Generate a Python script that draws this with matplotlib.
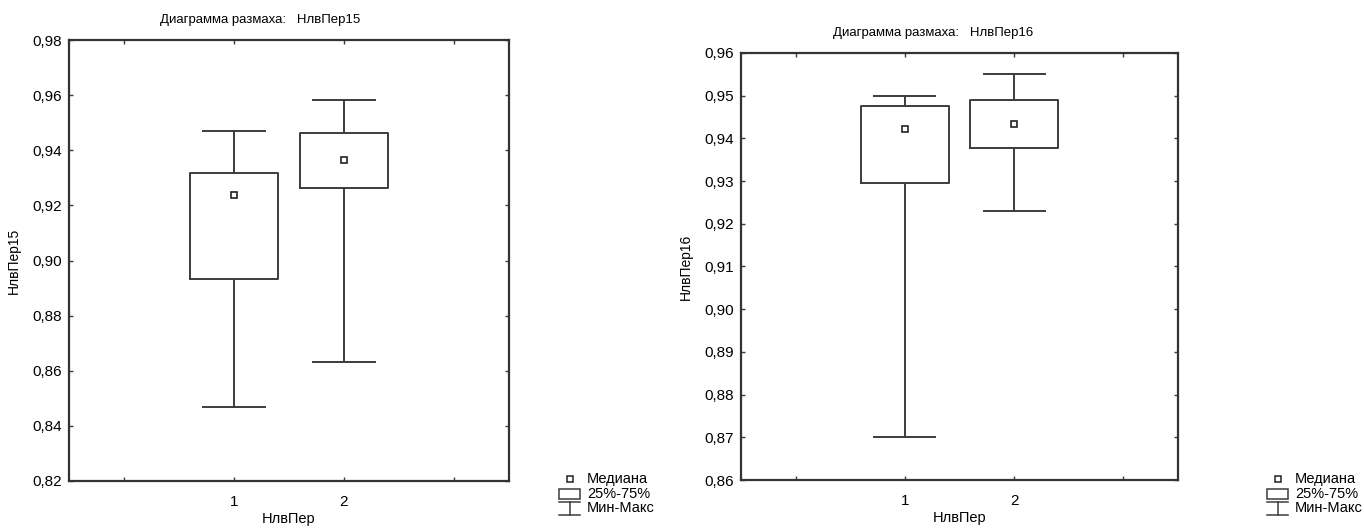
import matplotlib
matplotlib.use("Agg")
import matplotlib.pyplot as plt
from matplotlib.lines import Line2D
from matplotlib.patches import Rectangle
from matplotlib.ticker import FuncFormatter

plt.rcParams['font.family'] = ['Liberation Sans', 'DejaVu Sans']

categories = ["1", "2"]
group_label = "НлвПер"

# Panel 1: НлвПер15
p15_min = [0.8468, 0.8630]
p15_q1 = [0.8934, 0.9262]
p15_med = [0.9236, 0.9366]
p15_q3 = [0.9316, 0.9462]
p15_max = [0.9470, 0.9583]
p15_yticks = [0.82, 0.84, 0.86, 0.88, 0.90, 0.92, 0.94, 0.96, 0.98]

# Panel 2: НлвПер16
p16_min = [0.8700, 0.9231]
p16_q1 = [0.9296, 0.9377]
p16_med = [0.9423, 0.9434]
p16_q3 = [0.9475, 0.9490]
p16_max = [0.9500, 0.9550]
p16_yticks = [0.86, 0.87, 0.88, 0.89, 0.90, 0.91, 0.92, 0.93, 0.94, 0.95, 0.96]

legend_labels = ["Медиана", "25%-75%", "Мин-Макс"]

LC = "#3c3c3c"
W, H = 1364, 528
fig = plt.figure(figsize=(W / 100, H / 100), dpi=100)


def px_axes(x0, y0, x1, y1):
    return fig.add_axes([x0 / W, 1 - y1 / H, (x1 - x0) / W, (y1 - y0) / H])


def draw_panel(ax, mins, q1s, meds, q3s, maxs, yticks, ylabel, fmt):
    stats = []
    for i, c in enumerate(categories):
        stats.append(dict(label=c, whislo=mins[i], q1=q1s[i], med=meds[i],
                          q3=q3s[i], whishi=maxs[i], fliers=[]))
    pos = list(range(1, len(categories) + 1))
    ax.bxp(stats, positions=pos, widths=0.8, capwidths=0.56,
           showfliers=False,
           boxprops=dict(color=LC, linewidth=1.4),
           whiskerprops=dict(color=LC, linewidth=1.4),
           capprops=dict(color=LC, linewidth=1.4),
           medianprops=dict(linestyle='none'))
    ax.plot(pos, meds, linestyle='none', marker='s', markersize=4.5,
            markerfacecolor='white', markeredgecolor='#222222',
            markeredgewidth=1.2)
    ax.set_xlim(-0.5, 3.5)
    ax.set_ylim(yticks[0], yticks[-1])
    ax.set_xticks([0, 1, 2, 3])
    ax.set_xticklabels(["", categories[0], categories[1], ""])
    ax.set_yticks(yticks)
    ax.yaxis.set_major_formatter(FuncFormatter(lambda v, p: fmt.format(v).replace('.', ',')))
    ax.tick_params(direction='in', length=3, width=1, color=LC,
                   top=True, right=True, labelsize=11)
    ax.tick_params(axis='x', pad=10)
    ax.tick_params(axis='y', pad=5)
    for s in ax.spines.values():
        s.set_color("#333333")
        s.set_linewidth(1.6)
    ax.set_ylabel(ylabel, fontsize=10, labelpad=8)
    ax.set_xlabel(group_label, fontsize=10.5, labelpad=2)


ax1 = px_axes(69, 40, 509, 481)
draw_panel(ax1, p15_min, p15_q1, p15_med, p15_q3, p15_max, p15_yticks,
           "НлвПер15", "{:.2f}")
ax2 = px_axes(741, 53, 1178, 480)
draw_panel(ax2, p16_min, p16_q1, p16_med, p16_q3, p16_max, p16_yticks,
           "НлвПер16", "{:.2f}")

fig.text(260 / W, 1 - 20 / H, "Диаграмма размаха:   НлвПер15", ha='center',
         va='center', fontsize=9.5)
fig.text(933 / W, 1 - 33 / H, "Диаграмма размаха:   НлвПер16", ha='center',
         va='center', fontsize=9.5)


def draw_legend(xi0, xi1, xt, ys):
    tr = fig.transFigure
    xc = (xi0 + xi1) / 2
    fig.add_artist(Line2D([xc / W], [1 - ys[0] / H], transform=tr, marker='s',
                          markersize=4.5, markerfacecolor='white',
                          markeredgecolor='#222222', markeredgewidth=1.1,
                          linestyle='none'))
    fig.add_artist(Rectangle((xi0 / W, 1 - (ys[1] + 5) / H), (xi1 - xi0) / W, 10 / H,
                             transform=tr, fill=False, edgecolor=LC, linewidth=1.1))
    y0, y1 = ys[2] - 6, ys[2] + 7
    fig.add_artist(Line2D([xi0 / W, xi1 / W], [1 - y0 / H, 1 - y0 / H], transform=tr,
                          color=LC, linewidth=1.1))
    fig.add_artist(Line2D([xc / W, xc / W], [1 - y0 / H, 1 - y1 / H], transform=tr,
                          color=LC, linewidth=1.1))
    fig.add_artist(Line2D([xi0 / W, xi1 / W], [1 - y1 / H, 1 - y1 / H], transform=tr,
                          color=LC, linewidth=1.1))
    for lab, y in zip(legend_labels, ys):
        fig.text(xt / W, 1 - y / H, lab, ha='left', va='center', fontsize=10.5)


draw_legend(559, 580, 587, [479, 494, 508])
draw_legend(1267, 1288, 1295, [479, 494, 508])

fig.savefig("out.png", dpi=100, facecolor='white')
